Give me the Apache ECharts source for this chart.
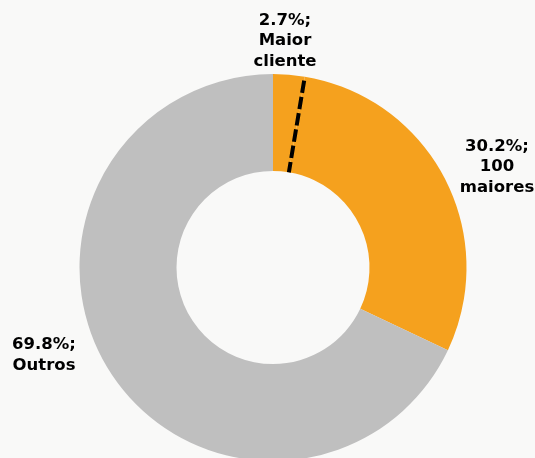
<!DOCTYPE html>
<html>
<head>
<meta charset="utf-8">
<script src="https://cdn.jsdelivr.net/npm/echarts@6/dist/echarts.min.js"></script>
<style>
  html, body { margin: 0; padding: 0; background: #f9f9f8; }
  #chart { width: 535px; height: 458px; }
</style>
</head>
<body>
<div id="chart"></div>
<script>
// ---- data ----
const categories = ['Maior cliente', '100 maiores', 'Outros'];
const values = [2.7, 30.2, 69.8];
const sliceColors = ['#F5A11E', '#F5A11E', '#BFBFBF'];

// ---- layout (positions/sizes, kept apart from the data) ----
const CENTER = [273, 267.5];
const INNER_R = 96.5;
const OUTER_R = 193.5;
const LABEL_POS = [[285, 41], [497, 167], [44, 355]];

const total = values.reduce((a, b) => a + b, 0);
const dividerAngle = values[0] / total * 360;

const chart = echarts.init(document.getElementById('chart'));
chart.setOption({
  animation: false,
  backgroundColor: '#f9f9f8',
  polar: { center: CENTER, radius: OUTER_R },
  angleAxis: { type: 'value', min: 0, max: 360, startAngle: 90, clockwise: true, show: false },
  radiusAxis: { type: 'value', min: 0, max: OUTER_R, show: false },
  series: [
    {
      type: 'pie',
      center: CENTER,
      radius: [INNER_R, OUTER_R],
      startAngle: 90,
      clockwise: true,
      silent: true,
      z: 1,
      data: categories.map((name, i) => ({
        name: name,
        value: values[i],
        itemStyle: { color: sliceColors[i], borderWidth: 0 }
      })),
      label: {
        show: true,
        position: 'outside',
        alignTo: 'none',
        overflow: 'none',
        width: 200,
        formatter: p => p.value + '%;\n' + p.name.replace(' ', '\n'),
        fontFamily: '"DejaVu Sans", Verdana, sans-serif',
        fontWeight: 'bold',
        fontSize: 16.5,
        lineHeight: 20.5,
        color: '#000',
        align: 'center'
      },
      labelLine: { show: false },
      labelLayout: params => ({
        x: LABEL_POS[params.dataIndex][0],
        y: LABEL_POS[params.dataIndex][1],
        align: 'center',
        verticalAlign: 'middle'
      })
    },
    {
      type: 'line',
      coordinateSystem: 'polar',
      z: 5,
      symbol: 'none',
      silent: true,
      lineStyle: { color: '#000', width: 4, type: [12.5, 4], dashOffset: 12.5 },
      data: [[OUTER_R, dividerAngle], [INNER_R, dividerAngle]]
    }
  ]
});
</script>
</body>
</html>
